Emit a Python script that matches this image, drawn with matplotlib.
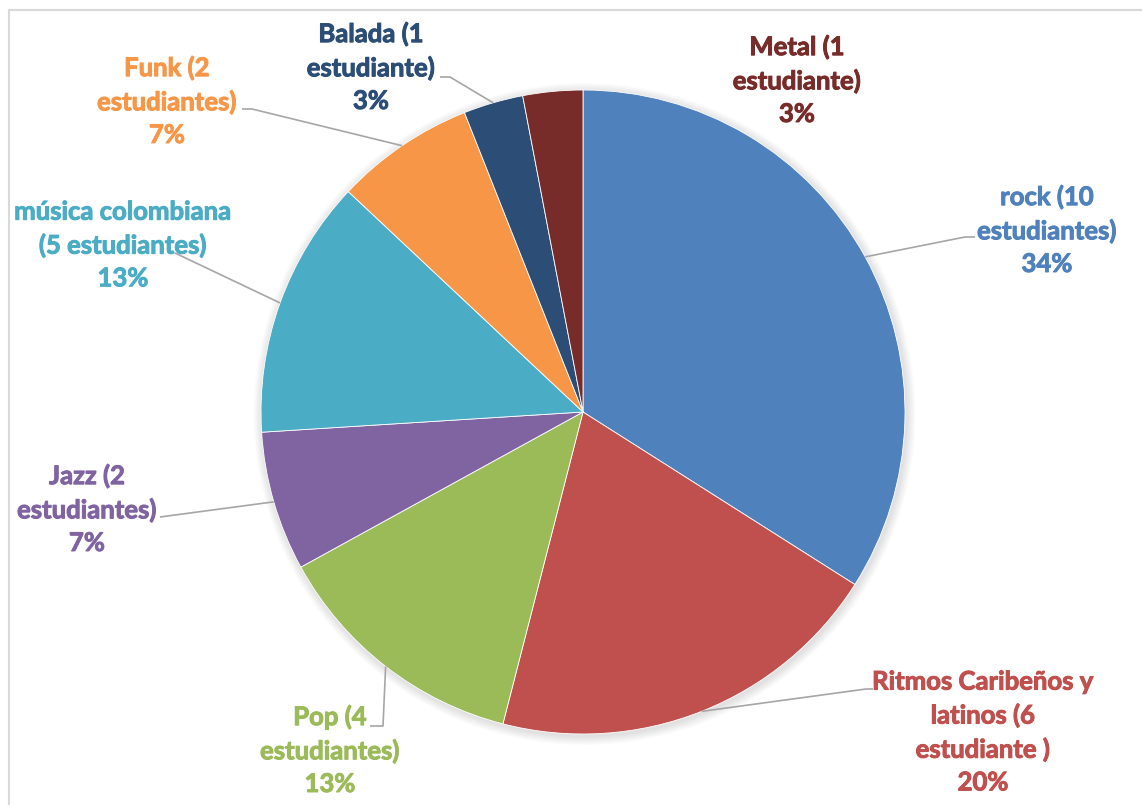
import numpy as np
import matplotlib
matplotlib.use("Agg")
import matplotlib.pyplot as plt
import matplotlib.patheffects as pe
from matplotlib.patches import Circle, Rectangle

# Music preferences of the students
generos = ["rock", "Ritmos Caribeños y latinos", "Pop", "Jazz",
           "música colombiana", "Funk", "Balada", "Metal"]
estudiantes = [10, 6, 4, 2, 5, 2, 1, 1]
porcentajes = [34, 20, 13, 7, 13, 7, 3, 3]
etiquetas = [
    "rock (10\nestudiantes)\n34%",
    "Ritmos Caribeños y\nlatinos (6\nestudiante )\n20%",
    "Pop (4\nestudiantes)\n13%",
    "Jazz (2\nestudiantes)\n7%",
    "música colombiana\n(5 estudiantes)\n13%",
    "Funk (2\nestudiantes)\n7%",
    "Balada (1\nestudiante)\n3%",
    "Metal (1\nestudiante)\n3%",
]
colores = ["#4F81BD", "#C0504D", "#9BBB59", "#8064A2",
           "#4BACC6", "#F79646", "#2C4D75", "#772C2A"]

W, H = 1142, 805
fig = plt.figure(figsize=(W / 100, H / 100), dpi=100)
ax = fig.add_axes([0, 0, 1, 1])


def py(y):
    # top-down pixel row -> data y
    return H - y


cx, cy, R = 583, py(412), 322

# chart frame
ax.add_patch(Rectangle((9, -5), W + 10, py(10) + 5, fill=False,
                       edgecolor="#D9D9D9", lw=1.5, zorder=0))

# soft shadow behind the pie
for k in range(10):
    ax.add_patch(Circle((cx + 1.5, cy - 2), R + 1 + k * 0.9,
                        facecolor="#000000", alpha=0.012, lw=0, zorder=1))

wedges, _ = ax.pie(porcentajes, colors=colores, startangle=90,
                   counterclock=False, center=(cx, cy), radius=R,
                   wedgeprops=dict(edgecolor="white", linewidth=0.6),
                   frame=True)
for w in wedges:
    w.set_zorder(2)
ax.set_xlim(0, W)
ax.set_ylim(0, H)
ax.set_aspect("equal")
ax.axis("off")

# label centres (pixel coords) and leader elbows
pos_etiquetas = [
    (1047, 230), (983, 732), (330, 750), (87, 509),
    (123, 245), (167, 101), (371, 67), (797, 80),
]
codos = [
    [(975, 237), (965, 237)],
    [(873, 689), (866, 689)],
    [(370, 726), (383, 726)],
    [(160, 517)],
    [(175, 253)],
    [(242, 109), (252, 109)],
    [(440, 77), (450, 77)],
    None,
]

for w, txt, col, (lx, ly), codo in zip(wedges, etiquetas, colores,
                                        pos_etiquetas, codos):
    ax.text(lx, py(ly), txt, ha="center", va="center", color=col,
            fontsize=18.5, fontweight="bold", family="Lato",
            linespacing=1.42, zorder=5,
            path_effects=[pe.withStroke(linewidth=0.7, foreground=col)])
    if codo is None:
        continue
    mid = np.deg2rad((w.theta1 + w.theta2) / 2)
    sx, sy = cx + R * np.cos(mid), cy + R * np.sin(mid)
    xs = [p[0] for p in codo] + [sx]
    ys = [py(p[1]) for p in codo] + [sy]
    ax.plot(xs, ys, color="#A6A6A6", lw=1.2, zorder=4,
            solid_capstyle="butt")

fig.savefig("out.png", dpi=100)
